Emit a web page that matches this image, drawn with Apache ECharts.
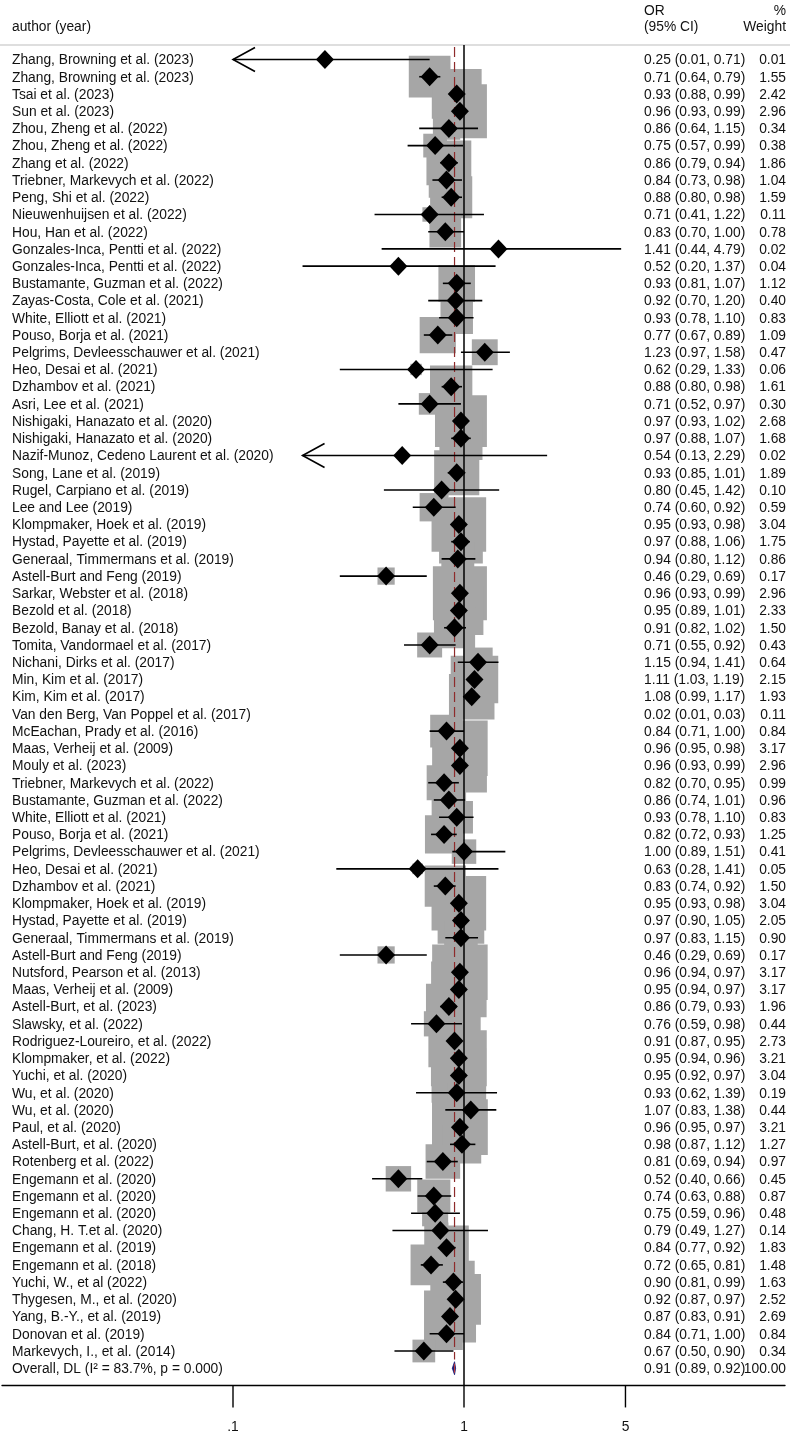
<!DOCTYPE html>
<html>
<head>
<meta charset="utf-8">
<script src="https://cdn.jsdelivr.net/npm/echarts@6/dist/echarts.min.js"></script>
<style>
html,body{margin:0;padding:0;background:#fff;}
#chart{width:790px;height:1433px;}
</style>
</head>
<body>
<div id="chart"></div>
<script>
// ---------- data ----------
const authors = [
"Zhang, Browning et al. (2023)","Zhang, Browning et al. (2023)","Tsai et al. (2023)","Sun et al. (2023)",
"Zhou, Zheng et al. (2022)","Zhou, Zheng et al. (2022)","Zhang et al. (2022)","Triebner, Markevych et al. (2022)",
"Peng, Shi et al. (2022)","Nieuwenhuijsen et al. (2022)","Hou, Han et al. (2022)","Gonzales-Inca, Pentti et al. (2022)",
"Gonzales-Inca, Pentti et al. (2022)","Bustamante, Guzman et al. (2022)","Zayas-Costa, Cole et al. (2021)","White, Elliott et al. (2021)",
"Pouso, Borja et al. (2021)","Pelgrims, Devleesschauwer et al. (2021)","Heo, Desai et al. (2021)","Dzhambov et al. (2021)",
"Asri, Lee et al. (2021)","Nishigaki, Hanazato et al. (2020)","Nishigaki, Hanazato et al. (2020)","Nazif-Munoz, Cedeno Laurent et al. (2020)",
"Song, Lane et al. (2019)","Rugel, Carpiano et al. (2019)","Lee and Lee (2019)","Klompmaker, Hoek et al. (2019)",
"Hystad, Payette et al. (2019)","Generaal, Timmermans et al. (2019)","Astell-Burt and Feng (2019)","Sarkar, Webster et al. (2018)",
"Bezold et al. (2018)","Bezold, Banay et al. (2018)","Tomita, Vandormael et al. (2017)","Nichani, Dirks et al. (2017)",
"Min, Kim et al. (2017)","Kim, Kim et al. (2017)","Van den Berg, Van Poppel et al. (2017)","McEachan, Prady et al. (2016)",
"Maas, Verheij et al. (2009)","Mouly et al. (2023)","Triebner, Markevych et al. (2022)","Bustamante, Guzman et al. (2022)",
"White, Elliott et al. (2021)","Pouso, Borja et al. (2021)","Pelgrims, Devleesschauwer et al. (2021)","Heo, Desai et al. (2021)",
"Dzhambov et al. (2021)","Klompmaker, Hoek et al. (2019)","Hystad, Payette et al. (2019)","Generaal, Timmermans et al. (2019)",
"Astell-Burt and Feng (2019)","Nutsford, Pearson et al. (2013)","Maas, Verheij et al. (2009)","Astell-Burt, et al. (2023)",
"Slawsky, et al. (2022)","Rodriguez-Loureiro, et al. (2022)","Klompmaker, et al. (2022)","Yuchi, et al. (2020)",
"Wu, et al. (2020)","Wu, et al. (2020)","Paul, et al. (2020)","Astell-Burt, et al. (2020)",
"Rotenberg et al. (2022)","Engemann et al. (2020)","Engemann et al. (2020)","Engemann et al. (2020)",
"Chang, H. T.et al. (2020)","Engemann et al. (2019)","Engemann et al. (2018)","Yuchi, W., et al (2022)",
"Thygesen, M., et al. (2020)","Yang, B.-Y., et al. (2019)","Donovan et al. (2019)","Markevych, I., et al. (2014)"
];
const orValues = [0.25,0.71,0.93,0.96,0.86,0.75,0.86,0.84,0.88,0.71,
0.83,1.41,0.52,0.93,0.92,0.93,0.77,1.23,0.62,0.88,
0.71,0.97,0.97,0.54,0.93,0.80,0.74,0.95,0.97,0.94,
0.46,0.96,0.95,0.91,0.71,1.15,1.11,1.08,0.02,0.84,
0.96,0.96,0.82,0.86,0.93,0.82,1.00,0.63,0.83,0.95,
0.97,0.97,0.46,0.96,0.95,0.86,0.76,0.91,0.95,0.95,
0.93,1.07,0.96,0.98,0.81,0.52,0.74,0.75,0.79,0.84,
0.72,0.90,0.92,0.87,0.84,0.67];
const ciLower = [0.01,0.64,0.88,0.93,0.64,0.57,0.79,0.73,0.80,0.41,
0.70,0.44,0.20,0.81,0.70,0.78,0.67,0.97,0.29,0.80,
0.52,0.93,0.88,0.13,0.85,0.45,0.60,0.93,0.88,0.80,
0.29,0.93,0.89,0.82,0.55,0.94,1.03,0.99,0.01,0.71,
0.95,0.93,0.70,0.74,0.78,0.72,0.89,0.28,0.74,0.93,
0.90,0.83,0.29,0.94,0.94,0.79,0.59,0.87,0.94,0.92,
0.62,0.83,0.95,0.87,0.69,0.40,0.63,0.59,0.49,0.77,
0.65,0.81,0.87,0.83,0.71,0.50];
const ciUpper = [0.71,0.79,0.99,0.99,1.15,0.99,0.94,0.98,0.98,1.22,
1.00,4.79,1.37,1.07,1.20,1.10,0.89,1.58,1.33,0.98,
0.97,1.02,1.07,2.29,1.01,1.42,0.92,0.98,1.06,1.12,
0.69,0.99,1.01,1.02,0.92,1.41,1.19,1.17,0.03,1.00,
0.98,0.99,0.95,1.01,1.10,0.93,1.51,1.41,0.92,0.98,
1.05,1.15,0.69,0.97,0.97,0.93,0.98,0.95,0.96,0.97,
1.39,1.38,0.97,1.12,0.94,0.66,0.88,0.96,1.27,0.92,
0.81,0.99,0.97,0.91,1.00,0.90];
const weights = [0.01,1.55,2.42,2.96,0.34,0.38,1.86,1.04,1.59,0.11,
0.78,0.02,0.04,1.12,0.40,0.83,1.09,0.47,0.06,1.61,
0.30,2.68,1.68,0.02,1.89,0.10,0.59,3.04,1.75,0.86,
0.17,2.96,2.33,1.50,0.43,0.64,2.15,1.93,0.11,0.84,
3.17,2.96,0.99,0.96,0.83,1.25,0.41,0.05,1.50,3.04,
2.05,0.90,0.17,3.17,3.17,1.96,0.44,2.73,3.21,3.04,
0.19,0.44,3.21,1.27,0.97,0.45,0.87,0.48,0.14,1.83,
1.48,1.63,2.52,2.69,0.84,0.34];
// rows whose CI is drawn with a left arrow, and where the arrow tip sits
const arrowRows = [0, 23];
const arrowTips = [0.1, 0.2];
const overallLabel = "Overall, DL (I\u00B2 = 83.7%, p = 0.000)";
const overallOR = 0.91, overallLower = 0.89, overallUpper = 0.92, overallWeight = 100.00;
const tickValues = [0.1, 1, 5];
const tickLabels = [".1", "1", "5"];
const shownMin = 0.1, shownMax = 5;

// ---------- build ----------
const FONT = "'Liberation Sans', Arial, Helvetica, sans-serif";
const FS = 13.8;
const TXT = '#111111';
const nRows = authors.length;          // 76 studies
const overallRow = nRows;              // index 76

const boxData = [], diamondData = [], ciData = [], textData = [];
for (let i = 0; i < nRows; i++) {
  const o = orValues[i];
  if (o >= shownMin && o <= shownMax) {
    boxData.push([o, i, weights[i]]);
    diamondData.push([o, i]);
  }
  let lo = ciLower[i], hi = ciUpper[i];
  const ai = arrowRows.indexOf(i);
  let arrow = 0;
  if (ai >= 0) { lo = arrowTips[ai]; arrow = 1; }
  if (hi >= shownMin && lo <= shownMax) {
    ciData.push([Math.max(lo, shownMin), Math.min(hi, shownMax), i, arrow]);
  }
  textData.push([1, i, authors[i],
    orValues[i].toFixed(2) + ' (' + ciLower[i].toFixed(2) + ', ' + ciUpper[i].toFixed(2) + ')',
    weights[i].toFixed(2)]);
}
textData.push([1, overallRow, overallLabel,
  overallOR.toFixed(2) + ' (' + overallLower.toFixed(2) + ', ' + overallUpper.toFixed(2) + ')',
  overallWeight.toFixed(2)]);

const chart = echarts.init(document.getElementById('chart'), null, {renderer: 'canvas'});

const xMin = 0.01;
const xMax = Math.pow(10, 783 / 231 - 2);

const option = {
  animation: false,
  backgroundColor: '#ffffff',
  grid: {left: 2, width: 783, top: 42.28, height: 1343.16, containLabel: false, outerBoundsMode: 'none'},
  xAxis: {
    type: 'log', logBase: 10, min: xMin, max: xMax,
    axisLine: {show: true, onZero: false, lineStyle: {color: '#000', width: 1.4}},
    axisTick: {show: false}, axisLabel: {show: false}, splitLine: {show: false}
  },
  yAxis: {
    type: 'value', inverse: true, min: -1, max: nRows + 1,
    show: false, splitLine: {show: false}
  },
  graphic: [
    {type: 'line', shape: {x1: 0, y1: 45, x2: 790, y2: 45}, style: {stroke: '#bdbdbd', lineWidth: 1.2}},
    {type: 'text', x: 12, y: 27, style: {text: 'author (year)', font: FS + 'px ' + FONT, fill: TXT, textVerticalAlign: 'middle'}},
    {type: 'text', x: 644, y: 11, style: {text: 'OR', font: FS + 'px ' + FONT, fill: TXT, textVerticalAlign: 'middle'}},
    {type: 'text', x: 644, y: 27, style: {text: '(95% CI)', font: FS + 'px ' + FONT, fill: TXT, textVerticalAlign: 'middle'}},
    {type: 'text', x: 786, y: 11, style: {text: '%', font: FS + 'px ' + FONT, fill: TXT, textAlign: 'right', textVerticalAlign: 'middle'}},
    {type: 'text', x: 786, y: 27, style: {text: 'Weight', font: FS + 'px ' + FONT, fill: TXT, textAlign: 'right', textVerticalAlign: 'middle'}}
  ],
  series: [
    { // weight boxes
      type: 'custom', coordinateSystem: 'cartesian2d', clip: false, z: 1,
      encode: {x: 0, y: 1},
      data: boxData,
      renderItem: function (params, api) {
        const c = api.coord([api.value(0), api.value(1)]);
        const s = 35 * Math.pow(api.value(2), 0.4);
        return {type: 'rect', shape: {x: c[0] - s / 2, y: c[1] - s / 2, width: s, height: s},
          style: {fill: '#a6a6a6'}};
      }
    },
    { // reference lines (null at 1, overall dashed)
      type: 'custom', coordinateSystem: 'cartesian2d', clip: false, z: 2,
      encode: {x: 0, y: 1},
      data: [[1, 0, 0], [overallOR, 0, 1]],
      renderItem: function (params, api) {
        const kind = api.value(2);
        if (kind === 0) {
          const a = api.coord([api.value(0), -0.84]);
          const b = api.coord([api.value(0), nRows + 1]);
          return {type: 'line', shape: {x1: a[0], y1: a[1], x2: b[0], y2: b[1]},
            style: {stroke: '#000', lineWidth: 1.5}};
        }
        const a = api.coord([api.value(0), -0.72]);
        const b = api.coord([api.value(0), nRows - 0.5]);
        return {type: 'line', shape: {x1: a[0], y1: a[1], x2: b[0], y2: b[1]},
          style: {stroke: '#8e2b2b', lineWidth: 1.2, lineDash: [10, 5]}};
      }
    },
    { // confidence intervals
      type: 'custom', coordinateSystem: 'cartesian2d', clip: false, z: 3,
      encode: {x: [0, 1], y: 2},
      data: ciData,
      renderItem: function (params, api) {
        const a = api.coord([api.value(0), api.value(2)]);
        const b = api.coord([api.value(1), api.value(2)]);
        const children = [{type: 'line', shape: {x1: a[0], y1: a[1], x2: b[0], y2: b[1]},
          style: {stroke: '#000', lineWidth: 1.6}}];
        if (api.value(3) === 1) {
          children.push({type: 'polyline', shape: {points: [[a[0] + 22, a[1] - 12], [a[0], a[1]], [a[0] + 22, a[1] + 12]]},
            style: {stroke: '#000', lineWidth: 1.6, fill: null}});
        }
        return {type: 'group', children: children};
      }
    },
    { // point estimates
      type: 'scatter', z: 4, symbol: 'diamond', symbolSize: [18, 19],
      itemStyle: {color: '#000', opacity: 1}, data: diamondData, silent: true
    },
    { // overall diamond
      type: 'custom', coordinateSystem: 'cartesian2d', clip: false, z: 5,
      encode: {x: [0, 1, 2], y: 3},
      data: [[overallLower, overallOR, overallUpper, overallRow]],
      renderItem: function (params, api) {
        const l = api.coord([api.value(0), api.value(3)]);
        const m = api.coord([api.value(1), api.value(3)]);
        const r = api.coord([api.value(2), api.value(3)]);
        return {type: 'group', children: [
          {type: 'polygon', shape: {points: [[l[0], l[1]], [m[0], m[1] - 6.5], [r[0], r[1]], [m[0], m[1] + 6.5]]},
            style: {fill: '#1b1b74', stroke: '#1b1b74', lineWidth: 0.8}},
          {type: 'line', shape: {x1: m[0], y1: m[1] - 4.5, x2: m[0], y2: m[1] + 4.5},
            style: {stroke: '#c23b3b', lineWidth: 1}}
        ]};
      }
    },
    { // row texts
      type: 'custom', coordinateSystem: 'cartesian2d', clip: false, z: 6,
      encode: {x: 0, y: 1},
      data: textData,
      renderItem: function (params, api) {
        const c = api.coord([api.value(0), api.value(1)]);
        const y = c[1] + 1;
        const d = textData[params.dataIndex];
        const f = FS + 'px ' + FONT;
        return {type: 'group', children: [
          {type: 'text', x: 12, y: y, style: {text: d[2], font: f, fill: TXT, textVerticalAlign: 'middle'}},
          {type: 'text', x: 644, y: y, style: {text: d[3], font: f, fill: TXT, textVerticalAlign: 'middle'}},
          {type: 'text', x: 786, y: y, style: {text: d[4], font: f, fill: TXT, textAlign: 'right', textVerticalAlign: 'middle'}}
        ]};
      }
    },
    { // axis ticks and labels
      type: 'custom', coordinateSystem: 'cartesian2d', clip: false, z: 6,
      encode: {x: 0, y: 1},
      data: tickValues.map(function (v, k) { return [v, nRows + 1, tickLabels[k]]; }),
      renderItem: function (params, api) {
        const c = api.coord([api.value(0), api.value(1)]);
        const lab = tickLabels[params.dataIndex];
        return {type: 'group', children: [
          {type: 'line', shape: {x1: c[0], y1: c[1], x2: c[0], y2: c[1] + 22}, style: {stroke: '#000', lineWidth: 1.4}},
          {type: 'text', x: c[0], y: c[1] + 42, style: {text: lab, font: FS + 'px ' + FONT, fill: TXT, textAlign: 'center', textVerticalAlign: 'middle'}}
        ]};
      }
    }
  ]
};
chart.setOption(option);
</script>
</body>
</html>
